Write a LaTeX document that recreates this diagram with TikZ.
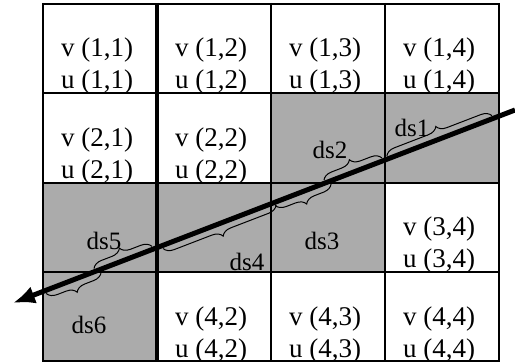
\documentclass[tikz,border=0pt]{standalone}
\usepackage{fontspec}
\setmainfont{Liberation Serif}
\usetikzlibrary{arrows.meta,decorations.pathreplacing}
\begin{document}
\begin{tikzpicture}[x=1pt,y=1pt,
  cellfill/.style={fill=black!33},
  gridline/.style={line width=2pt},
  thickgrid/.style={line width=4pt},
  celltext/.style={anchor=base west, inner sep=0pt, font=\fontsize{27}{30}\selectfont},
  dslabel/.style={inner sep=0pt, font=\fontsize{25}{28}\selectfont},
  bracestyle/.style={decorate, decoration={brace, amplitude=10pt}, line width=1pt},
  ray/.style={line width=5pt, -{Latex[length=22pt,width=18pt]}}
]
\useasboundingbox (0,0) rectangle (515,362);
% shaded cells
\fill[cellfill] (271,268.5) rectangle (499,179);
\fill[cellfill] (43,179) rectangle (385,89.5);
\fill[cellfill] (43,89.5) rectangle (157,1);
% texts row 1
\node[celltext] (v11) at (61,305) {v (1,1)};
\node[celltext] (u11) at (61,273) {u (1,1)};
\node[celltext] (v12) at (175,305) {v (1,2)};
\node[celltext] (u12) at (175,273) {u (1,2)};
\node[celltext] (v13) at (289,305) {v (1,3)};
\node[celltext] (u13) at (289,273) {u (1,3)};
\node[celltext] (v14) at (403,305) {v (1,4)};
\node[celltext] (u14) at (403,273) {u (1,4)};
% row 2
\node[celltext] (v21) at (61,215.5) {v (2,1)};
\node[celltext] (u21) at (61,183.5) {u (2,1)};
\node[celltext] (v22) at (175,215.5) {v (2,2)};
\node[celltext] (u22) at (175,183.5) {u (2,2)};
% row 3
\node[celltext] (v34) at (403,126) {v (3,4)};
\node[celltext] (u34) at (403,94) {u (3,4)};
% row 4
\node[celltext] (v42) at (175,36.5) {v (4,2)};
\node[celltext] (u42) at (175,4.5) {u (4,2)};
\node[celltext] (v43) at (289,36.5) {v (4,3)};
\node[celltext] (u43) at (289,4.5) {u (4,3)};
\node[celltext] (v44) at (403,36.5) {v (4,4)};
\node[celltext] (u44) at (403,4.5) {u (4,4)};
% grid
\foreach \yy in {358,268.5,179,89.5,1} \draw[gridline] (42,\yy) -- (500,\yy);
\foreach \xx in {43,271,385,499} \draw[gridline] (\xx,359) -- (\xx,0);
\draw[thickgrid] (157,359) -- (157,0);
% ray
\coordinate (A) at (515,252);
\coordinate (B) at (13,59);
\draw[ray] (A) -- (B);
% braces along the ray
\begin{scope}[shift={(A)}, rotate=201.03]
  \draw[bracestyle] (136.1,-3) -- (23.6,-3);
  \draw[bracestyle] (203.5,-3) -- (141.4,-3);
  \draw[bracestyle] (198.2,3) -- (258.2,3);
  \draw[bracestyle] (257.1,3) -- (378.2,3);
  \draw[bracestyle] (449.9,-3) -- (387.8,-3);
  \draw[bracestyle] (444.6,3) -- (503.5,3);
\end{scope}
% labels
\node[dslabel] (ds1) at (412,234) {ds1};
\node[dslabel] (ds2) at (330,212) {ds2};
\node[dslabel] (ds3) at (322,121) {ds3};
\node[dslabel] (ds4) at (247,100) {ds4};
\node[dslabel] (ds5) at (104,121) {ds5};
\node[dslabel] (ds6) at (89,37) {ds6};
\end{tikzpicture}
\end{document}
